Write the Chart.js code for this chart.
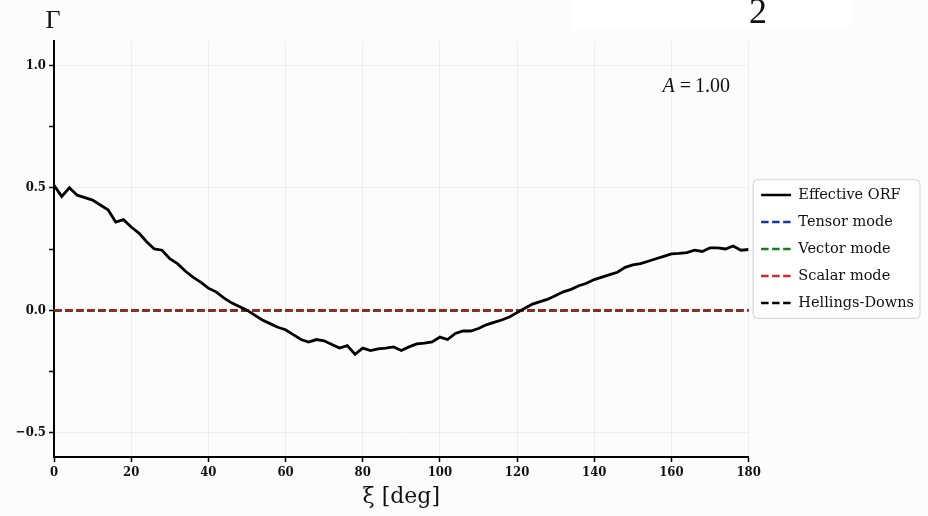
<!DOCTYPE html>
<html>
<head>
<meta charset="utf-8">
<script src="https://cdn.jsdelivr.net/npm/chart.js@4.4.0/dist/chart.umd.min.js"></script>
<style>
  html, body { margin: 0; padding: 0; background: #fcfcfc; }
  #wrap { width: 928px; height: 516px; position: relative; }
</style>
</head>
<body>
<div id="wrap"><canvas id="orfChart"></canvas></div>
<script>
// angular separation of the pulsar pairs, in degrees
var xiDeg = [0, 2, 4, 6, 8, 10, 12, 14, 16, 18, 20, 22, 24, 26, 28, 30, 32, 34, 36, 38,
  40, 42, 44, 46, 48, 50, 52, 54, 56, 58, 60, 62, 64, 66, 68, 70, 72, 74, 76, 78,
  80, 82, 84, 86, 88, 90, 92, 94, 96, 98, 100, 102, 104, 106, 108, 110, 112, 114, 116, 118,
  120, 122, 124, 126, 128, 130, 132, 134, 136, 138, 140, 142, 144, 146, 148, 150, 152, 154, 156, 158,
  160, 162, 164, 166, 168, 170, 172, 174, 176, 178, 180];

// effective overlap reduction function
var effectiveOrf = [0.51, 0.465, 0.50, 0.47, 0.46, 0.45, 0.43, 0.41, 0.36, 0.37,
  0.34, 0.315, 0.28, 0.25, 0.245, 0.21, 0.19, 0.16, 0.135, 0.115,
  0.09, 0.075, 0.05, 0.03, 0.015, 0.0, -0.02, -0.04, -0.055, -0.07,
  -0.08, -0.10, -0.12, -0.13, -0.12, -0.125, -0.14, -0.155, -0.145, -0.18,
  -0.155, -0.165, -0.158, -0.155, -0.15, -0.165, -0.15, -0.138, -0.135, -0.13,
  -0.11, -0.12, -0.095, -0.085, -0.085, -0.075, -0.06, -0.05, -0.04, -0.028,
  -0.01, 0.008, 0.025, 0.035, 0.045, 0.06, 0.075, 0.085, 0.10, 0.11,
  0.125, 0.135, 0.145, 0.155, 0.175, 0.185, 0.19, 0.20, 0.21, 0.22,
  0.23, 0.232, 0.235, 0.245, 0.24, 0.255, 0.255, 0.25, 0.262, 0.245, 0.248];

// the individual modes all sit flat on zero for A = 1.00
var modeXi = [0, 180];
var tensorMode = [0, 0];
var vectorMode = [0, 0];
var scalarMode = [0, 0];
var hellingsDowns = [0, 0];

var seriesNames = ["Effective ORF", "Tensor mode", "Vector mode", "Scalar mode", "Hellings-Downs"];
var legendColors = ["#000000", "#1f2fb0", "#1b7a1b", "#d62728", "#000000"];
var xTickValues = [0, 20, 40, 60, 80, 100, 120, 140, 160, 180];
var yTickLabels = [-0.5, 0.0, 0.5, 1.0];

var modeDash = [7.5, 3.5];

function toPoints(xs, ys) {
  return xs.map(function (x, i) { return { x: x, y: ys[i] }; });
}

function roundRect(ctx, x, y, w, h, r) {
  ctx.beginPath();
  ctx.moveTo(x + r, y);
  ctx.lineTo(x + w - r, y);
  ctx.quadraticCurveTo(x + w, y, x + w, y + r);
  ctx.lineTo(x + w, y + h - r);
  ctx.quadraticCurveTo(x + w, y + h, x + w - r, y + h);
  ctx.lineTo(x + r, y + h);
  ctx.quadraticCurveTo(x, y + h, x, y + h - r);
  ctx.lineTo(x, y + r);
  ctx.quadraticCurveTo(x, y, x + r, y);
  ctx.closePath();
}

// background, legend frame and the loose text bits
var decorations = {
  id: "decorations",
  beforeDraw: function (chart) {
    var ctx = chart.ctx;
    ctx.save();
    ctx.fillStyle = "#fcfcfc";
    ctx.fillRect(0, 0, chart.width, chart.height);

    // cropped header box with the "2"
    ctx.fillStyle = "#ffffff";
    ctx.fillRect(572, 0, 278, 30);

    var boxes = chart.legend.legendHitBoxes;
    if (boxes && boxes.length) {
      var l = Infinity, t = Infinity, r = -Infinity, b = -Infinity;
      boxes.forEach(function (h) {
        l = Math.min(l, h.left); t = Math.min(t, h.top);
        r = Math.max(r, h.left + h.width); b = Math.max(b, h.top + h.height);
      });
      roundRect(ctx, l - 8, t - 8, r - l + 14, b - t + 16, 4);
      ctx.fillStyle = "#ffffff";
      ctx.fill();
      ctx.strokeStyle = "#d0d0d0";
      ctx.lineWidth = 1;
      ctx.stroke();
    }
    ctx.restore();
  },
  afterDraw: function (chart) {
    var ctx = chart.ctx;
    var area = chart.chartArea;
    ctx.save();
    ctx.fillStyle = "#111";
    ctx.textBaseline = "alphabetic";

    ctx.font = "36px 'Liberation Serif'";
    ctx.textAlign = "center";
    ctx.fillText("2", 758, 23);

    ctx.font = "26px 'Liberation Serif'";
    ctx.fillText("\u0393", area.left - 1, 28);

    ctx.textAlign = "left";
    ctx.font = "italic 20px 'Liberation Serif'";
    var ax = area.right - 86, ay = 92;
    ctx.fillText("A", ax, ay);
    var aw = ctx.measureText("A").width;
    ctx.font = "20px 'Liberation Serif'";
    ctx.fillText("\u2009=\u20091.00", ax + aw + 1, ay);
    ctx.restore();
  }
};

var ctx = document.getElementById("orfChart");
ctx.width = 928;
ctx.height = 516;

var tickFont = { family: "'DejaVu Serif Condensed', 'DejaVu Serif'", size: 13, weight: "bold" };

var orfChart = new Chart(ctx, {
  type: "line",
  data: {
    datasets: [
      { label: seriesNames[0], data: toPoints(xiDeg, effectiveOrf), borderColor: "#000", borderWidth: 2.8, order: 0 },
      { label: seriesNames[1], data: toPoints(modeXi, tensorMode), borderColor: "#1f2fb0", borderDash: modeDash, borderWidth: 2.5, order: 4 },
      { label: seriesNames[2], data: toPoints(modeXi, vectorMode), borderColor: "#1b7a1b", borderDash: modeDash, borderWidth: 2.5, order: 3 },
      { label: seriesNames[3], data: toPoints(modeXi, scalarMode), borderColor: "rgba(205,45,35,0.8)", borderDash: modeDash, borderWidth: 2.5, order: 1 },
      { label: seriesNames[4], data: toPoints(modeXi, hellingsDowns), borderColor: "#000", borderDash: modeDash, borderWidth: 2.5, order: 2 }
    ]
  },
  options: {
    responsive: false,
    animation: false,
    layout: { padding: { top: 41, right: 4, bottom: 6, left: 0 } },
    elements: {
      point: { radius: 0 },
      line: { tension: 0, fill: false }
    },
    plugins: {
      tooltip: { enabled: false },
      legend: {
        position: "right",
        fullSize: false,
        labels: {
          usePointStyle: true,
          pointStyle: "line",
          pointStyleWidth: 30,
          color: "#111",
          padding: 12.5,
          font: { family: "'DejaVu Serif'", size: 14.5 },
          sort: function (a, b) { return a.datasetIndex - b.datasetIndex; },
          generateLabels: function (chart) {
            var items = Chart.defaults.plugins.legend.labels.generateLabels(chart);
            items.forEach(function (it) {
              var ds = chart.data.datasets[it.datasetIndex];
              it.lineDash = ds.borderDash || [];
              it.strokeStyle = legendColors[it.datasetIndex];
              it.lineWidth = 2.5;
            });
            return items;
          }
        }
      }
    },
    scales: {
      x: {
        type: "linear",
        min: 0,
        max: 180,
        afterFit: function (scale) { scale.height = 53; },
        afterBuildTicks: function (scale) {
          scale.ticks = xTickValues.map(function (v) { return { value: v }; });
        },
        border: { display: true, color: "#000", width: 2 },
        grid: { color: "rgba(0,0,0,0.05)", tickColor: "#000", tickLength: 5, tickWidth: 1.5 },
        ticks: {
          color: "#111",
          padding: 3,
          maxRotation: 0,
          font: tickFont
        },
        title: {
          display: true,
          text: "\u03be [deg]",
          color: "#111",
          padding: { top: 0, bottom: 0 },
          font: { family: "'DejaVu Serif'", size: 22 }
        }
      },
      y: {
        type: "linear",
        min: -0.6,
        max: 1.1,
        afterFit: function (scale) { scale.width = 54; },
        border: { display: true, color: "#000", width: 2 },
        grid: {
          color: function (c) {
            var v = c.tick ? c.tick.value : 0;
            return yTickLabels.some(function (t) { return Math.abs(t - v) < 1e-6; }) ? "rgba(0,0,0,0.05)" : "rgba(0,0,0,0)";
          },
          tickColor: "#000",
          tickLength: 5,
          tickWidth: 1.5
        },
        ticks: {
          stepSize: 0.25,
          includeBounds: false,
          color: "#111",
          padding: 3,
          font: tickFont,
          callback: function (v) {
            var hit = yTickLabels.some(function (t) { return Math.abs(t - v) < 1e-6; });
            if (!hit) return "";
            return v < 0 ? "\u2212" + Math.abs(v).toFixed(1) : v.toFixed(1);
          }
        }
      }
    }
  },
  plugins: [decorations]
});
</script>
</body>
</html>
